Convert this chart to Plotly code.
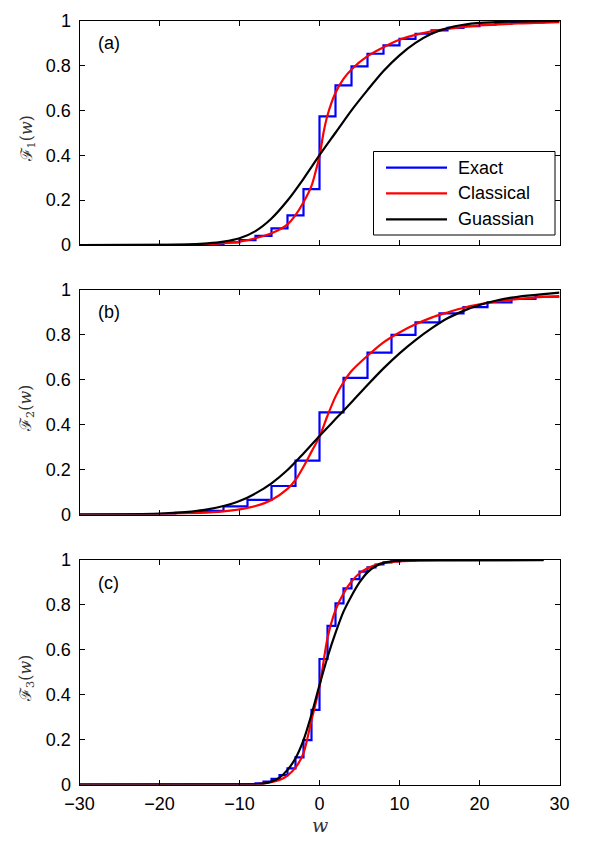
import plotly.graph_objects as go

W, H = 590, 842

# ---------------- data ----------------
# Panel (a)
a_exact_x = [-30, -16, -14, -12, -10, -8, -6, -4, -2, 0, 2, 4, 6, 8, 10, 12, 14, 16, 18, 20, 22, 24, 26, 28, 30]
a_exact_y = [0, 0.002, 0.004, 0.012, 0.022, 0.041, 0.074, 0.132, 0.249, 0.573, 0.711, 0.796, 0.852, 0.889,
             0.918, 0.941, 0.956, 0.967, 0.975, 0.981, 0.986, 0.989, 0.992, 0.994, 0.994]
a_class_x = [-30, -20, -15, -12, -10, -8, -6, -4, -3, -2, -1, -0.5, 0, 0.5, 1, 2, 3, 4, 6, 8, 10, 12, 14, 16, 20, 25, 30]
a_class_y = [0, 0.001, 0.003, 0.008, 0.015, 0.030, 0.052, 0.092, 0.133, 0.190, 0.263, 0.325, 0.395, 0.50, 0.578,
             0.678, 0.74, 0.782, 0.841, 0.881, 0.914, 0.936, 0.952, 0.963, 0.978, 0.987, 0.993]
a_gauss_x = [-30, -20, -16, -14, -12, -10, -8, -6, -4, -2, 0, 2, 4, 6, 8, 10, 12, 14, 16, 18, 20, 24, 30]
a_gauss_y = [0, 0.001, 0.003, 0.007, 0.015, 0.030, 0.062, 0.118, 0.198, 0.295, 0.40, 0.50, 0.60, 0.69, 0.775,
             0.845, 0.90, 0.941, 0.966, 0.981, 0.989, 0.995, 0.998]

# Panel (b)
b_exact_x = [-30, -21, -18, -15, -12, -9, -6, -3, 0, 3, 6, 9, 12, 15, 18, 21, 24, 27, 30]
b_exact_y = [0, 0.002, 0.007, 0.016, 0.036, 0.065, 0.127, 0.240, 0.455, 0.609, 0.721, 0.800, 0.856, 0.896,
             0.924, 0.945, 0.960, 0.970, 0.970]
b_class_x = [-30, -20, -15, -12, -10, -8, -6, -4, -3, -2, -1, 0, 1, 2, 3, 4, 6, 8, 10, 12, 14, 16, 18, 20, 22, 24, 26, 28, 30]
b_class_y = [0, 0.002, 0.007, 0.014, 0.023, 0.038, 0.065, 0.114, 0.154, 0.213, 0.280, 0.347, 0.44, 0.525, 0.589,
             0.639, 0.707, 0.767, 0.811, 0.847, 0.877, 0.900, 0.921, 0.936, 0.948, 0.957, 0.964, 0.969, 0.973]
b_gauss_x = [-30, -25, -20, -16, -14, -12, -10, -8, -6, -4, -2, 0, 2, 4, 6, 8, 10, 12, 14, 16, 18, 20, 22, 24, 26, 28, 30]
b_gauss_y = [0, 0.001, 0.004, 0.013, 0.023, 0.038, 0.060, 0.094, 0.139, 0.198, 0.272, 0.35, 0.425, 0.50, 0.577,
             0.651, 0.718, 0.777, 0.829, 0.874, 0.907, 0.933, 0.952, 0.966, 0.975, 0.982, 0.988]

# Panel (c)
c_exact_x = [-30, -9, -8, -7, -6, -5, -4, -3, -2, -1, 0, 1, 2, 3, 4, 5, 6, 7, 8, 9, 10, 12, 28]
c_exact_y = [0, 0.002, 0.005, 0.013, 0.025, 0.042, 0.072, 0.121, 0.198, 0.332, 0.559, 0.707, 0.807, 0.874,
             0.915, 0.948, 0.967, 0.980, 0.989, 0.994, 0.997, 0.999, 0.999]
c_class_x = [-30, -10, -8, -7, -6, -5, -4, -3, -2, -1, 0, 1, 2, 3, 4, 5, 6, 7, 8, 10, 15, 28]
c_class_y = [0, 0.0005, 0.002, 0.004, 0.010, 0.020, 0.040, 0.075, 0.14, 0.287, 0.435, 0.652, 0.777, 0.851,
             0.904, 0.941, 0.963, 0.978, 0.987, 0.994, 0.999, 1.0]
c_gauss_x = [-30, -10, -8, -7, -6, -5, -4, -3, -2, -1, 0, 1, 2, 3, 4, 5, 6, 7, 8, 9, 10, 12, 28]
c_gauss_y = [0, 0.0003, 0.001, 0.004, 0.013, 0.031, 0.065, 0.117, 0.198, 0.312, 0.443, 0.567, 0.675, 0.77,
             0.84, 0.90, 0.945, 0.972, 0.987, 0.994, 0.997, 0.999, 1.0]

panel_labels = ["(a)", "(b)", "(c)"]
y_titles = ["\u2131<sub>1</sub>(<i>w</i>)", "\u2131<sub>2</sub>(<i>w</i>)", "\u2131<sub>3</sub>(<i>w</i>)"]
series_names = ["Exact", "Classical", "Guassian"]
series_colors = ["#0000FF", "#FF0000", "#000000"]
x_ticks = [-30, -20, -10, 0, 10, 20, 30]
y_ticks = [0, 0.2, 0.4, 0.6, 0.8, 1]
y_tick_text = ["0", "0.2", "0.4", "0.6", "0.8", "1"]

panels = [
    (a_exact_x, a_exact_y, a_class_x, a_class_y, a_gauss_x, a_gauss_y),
    (b_exact_x, b_exact_y, b_class_x, b_class_y, b_gauss_x, b_gauss_y),
    (c_exact_x, c_exact_y, c_class_x, c_class_y, c_gauss_x, c_gauss_y),
]

# ---------------- layout geometry (pixels) ----------------
x_left, x_right = 79.5, 559.5
panel_tops = [20.5, 290.0, 560.0]
panel_h = 224.5

def px(x):
    return x / W

def py(y):
    return 1 - y / H

FONT = "Liberation Sans, Arial, Helvetica, sans-serif"
LW = 2.2

fig = go.Figure()
layout = dict(
    template="none",
    width=W, height=H,
    margin=dict(l=0, r=0, t=0, b=0, pad=0),
    paper_bgcolor="white", plot_bgcolor="white",
    showlegend=False,
    font=dict(family=FONT, size=18, color="black"),
)

annotations = []
shapes = []

for i, (ex, ey, cx, cy, gx, gy) in enumerate(panels):
    n = "" if i == 0 else str(i + 1)
    xa, ya = "x" + n, "y" + n
    fig.add_trace(go.Scatter(x=ex, y=ey, mode="lines", line=dict(color=series_colors[0], width=LW, shape="hv"),
                             name=series_names[0], xaxis=xa, yaxis=ya))
    fig.add_trace(go.Scatter(x=cx, y=cy, mode="lines", line=dict(color=series_colors[1], width=LW, shape="spline", smoothing=0.8),
                             name=series_names[1], xaxis=xa, yaxis=ya))
    fig.add_trace(go.Scatter(x=gx, y=gy, mode="lines", line=dict(color=series_colors[2], width=LW, shape="spline", smoothing=0.8),
                             name=series_names[2], xaxis=xa, yaxis=ya))
    top = panel_tops[i]
    bot = top + panel_h
    common = dict(showline=True, linecolor="black", linewidth=1, mirror="ticks", ticks="inside",
                  ticklen=5, tickwidth=1, tickcolor="black", showgrid=False, zeroline=False,
                  automargin=False, tickfont=dict(family=FONT, size=18, color="black"))
    xdef = dict(domain=[px(x_left), px(x_right)], range=[-30, 30], tickvals=x_ticks,
                showticklabels=(i == 2), anchor=ya, **common)
    if i == 2:
        xdef["ticklabelstandoff"] = 3
    layout["xaxis" + n] = xdef
    layout["yaxis" + n] = dict(domain=[py(bot), py(top)], range=[0, 1], tickvals=y_ticks, ticktext=y_tick_text,
                               anchor=xa, ticklabelstandoff=4, **common)
    annotations.append(dict(text=panel_labels[i], x=px(96), y=py(top + 22.5), xref="paper", yref="paper",
                            xanchor="left", yanchor="middle", showarrow=False,
                            font=dict(family=FONT, size=18, color="black")))
    annotations.append(dict(text=y_titles[i], x=px(27), y=py(top + panel_h * 0.53), xref="paper", yref="paper",
                            xanchor="center", yanchor="middle", showarrow=False, textangle=-90,
                            font=dict(family="DejaVu Serif, serif", size=16, color="#333333")))

# x-axis title
annotations.append(dict(text="<i>w</i>", x=px(320), y=py(825), xref="paper", yref="paper",
                        xanchor="center", yanchor="middle", showarrow=False,
                        font=dict(family="DejaVu Serif, serif", size=19, color="#333333")))

# legend (drawn in panel a)
shapes.append(dict(type="rect", xref="paper", yref="paper", x0=px(373.5), x1=px(555), y0=py(235), y1=py(151.5),
                   line=dict(color="black", width=1), fillcolor="white", layer="above"))
rows = [167.7, 193.3, 219.3]
for name, col, ry in zip(series_names, series_colors, rows):
    shapes.append(dict(type="line", xref="paper", yref="paper", x0=px(386), x1=px(447), y0=py(ry), y1=py(ry),
                       line=dict(color=col, width=LW), layer="above"))
    annotations.append(dict(text=name, x=px(455.5), y=py(ry), xref="paper", yref="paper",
                            xanchor="left", yanchor="middle", showarrow=False,
                            font=dict(family=FONT, size=18, color="black")))

layout["annotations"] = annotations
layout["shapes"] = shapes
fig.update_layout(**layout)

fig.write_html("out.html")
